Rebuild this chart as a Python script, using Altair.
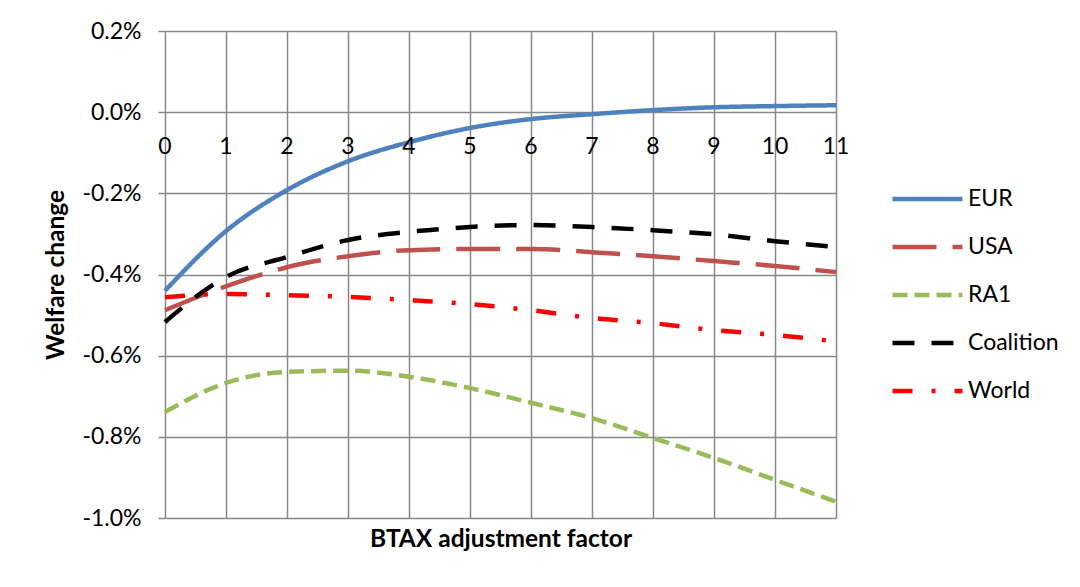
import altair as alt
import pandas as pd

x_vals = list(range(12))
eur = [-0.440, -0.293, -0.192, -0.121, -0.074, -0.039, -0.017, -0.005, 0.005, 0.012, 0.015, 0.017]
usa = [-0.488, -0.429, -0.382, -0.355, -0.340, -0.337, -0.337, -0.345, -0.355, -0.367, -0.379, -0.394]
ra1 = [-0.739, -0.667, -0.640, -0.637, -0.652, -0.680, -0.716, -0.754, -0.803, -0.852, -0.906, -0.960]
coalition = [-0.517, -0.406, -0.357, -0.315, -0.295, -0.283, -0.278, -0.283, -0.291, -0.301, -0.318, -0.332]
world = [-0.456, -0.448, -0.451, -0.455, -0.463, -0.473, -0.488, -0.507, -0.520, -0.537, -0.549, -0.565]

series_names = ["EUR", "USA", "RA1", "Coalition", "World"]
series_vals = [eur, usa, ra1, coalition, world]
colors = ["#4F81BD", "#C0504D", "#9BBB59", "#000000", "#FF0000"]
dashes = [[1, 0], [44, 16], [15, 7], [22, 17], [20, 19, 4, 19]]
y_ticks = [0.2, 0.0, -0.2, -0.4, -0.6, -0.8, -1.0]
x_tick_labels = [str(v) for v in x_vals]

rows = []
for name, vals in zip(series_names, series_vals):
    for xv, yv in zip(x_vals, vals):
        rows.append({"x": xv, "y": yv, "series": name})
df = pd.DataFrame(rows)
lab_df = pd.DataFrame({"x": x_vals, "y": [0.0] * len(x_vals), "label": x_tick_labels})

FONT = "Lato"
GRID = "#888888"
FS = 23
TFS = 24.5

xscale = alt.Scale(domain=[0, 11], nice=False, zero=False)
yscale = alt.Scale(domain=[-1.0, 0.2], nice=False, zero=False)

lines = alt.Chart(df).mark_line(strokeWidth=4.5, interpolate="monotone").encode(
    x=alt.X("x:Q", scale=xscale,
            axis=alt.Axis(title="BTAX adjustment factor", values=x_vals, labels=False,
                          ticks=False, domain=False, grid=True, gridColor=GRID,
                          gridWidth=1.5, titleFontSize=TFS, titleFont=FONT,
                          titleFontWeight="bold", titleColor="black", titlePadding=9)),
    y=alt.Y("y:Q", scale=yscale,
            axis=alt.Axis(title="Welfare change", values=y_ticks, grid=True, gridColor=GRID,
                          gridWidth=1.5, domain=False, tickSize=7, tickColor=GRID,
                          tickWidth=1.5, labelFontSize=FS, labelFont=FONT,
                          labelColor="black", labelPadding=17,
                          labelExpr="replace(format(datum.value, '.1f'), '\u2212', '-') + '%'",
                          titleFontSize=TFS, titleFont=FONT, titleFontWeight="bold",
                          titleColor="black", titlePadding=13)),
    color=alt.Color("series:N", scale=alt.Scale(domain=series_names, range=colors),
                    sort=series_names, title=None),
    strokeDash=alt.StrokeDash("series:N", scale=alt.Scale(domain=series_names, range=dashes),
                              sort=series_names, title=None),
    order=alt.Order("x:Q"),
)

xlabels = alt.Chart(lab_df).mark_text(fontSize=FS, font=FONT, color="black", dy=35,
                                      baseline="middle", align="center").encode(
    x=alt.X("x:Q", scale=xscale),
    y=alt.Y("y:Q", scale=yscale),
    text="label:N",
)

chart = alt.layer(lines, xlabels).properties(
    width=671, height=487,
    autosize=alt.AutoSizeParams(type="none"),
    padding={"left": 157, "top": 23, "right": 236, "bottom": 61},
).configure_view(stroke=None).configure_legend(
    orient="none", legendX=725, legendY=144, symbolType="stroke", symbolSize=4900,
    symbolStrokeWidth=4.5, labelFontSize=FS, labelFont=FONT, labelColor="black",
    rowPadding=0, clipHeight=47.75, labelOffset=3,
)

chart.save("out.html", embed_options={"renderer": "svg", "actions": False})
